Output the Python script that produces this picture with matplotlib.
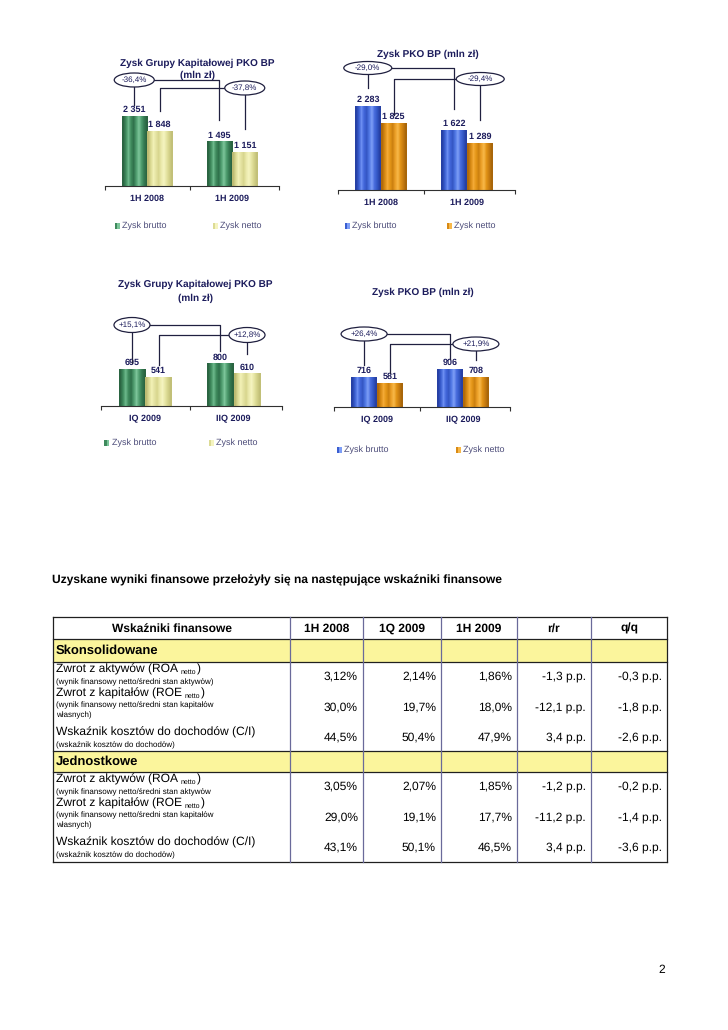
import matplotlib
matplotlib.use('Agg')
import matplotlib.pyplot as plt
from matplotlib.patches import Ellipse, Rectangle
from matplotlib.lines import Line2D
from matplotlib.colors import ListedColormap
import numpy as np

plt.rcParams['font.family'] = ['Liberation Sans', 'DejaVu Sans']
plt.rcParams['text.hinting'] = 'no_hinting'
plt.rcParams['text.hinting_factor'] = 1

W, H = 728, 1030

# ---------------- data ----------------
series_names = ['Zysk brutto', 'Zysk netto']
cats_h = ['1H 2008', '1H 2009']
cats_q = ['IQ 2009', 'IIQ 2009']
title_grp = ['Zysk Grupy Kapitałowej PKO BP', '(mln zł)']
title_bank = ['Zysk PKO BP (mln zł)']

grp_h_brutto = [2351, 1495]
grp_h_netto = [1848, 1151]
grp_h_change = ['-36,4%', '-37,8%']

bank_h_brutto = [2283, 1622]
bank_h_netto = [1825, 1289]
bank_h_change = ['-29,0%', '-29,4%']

grp_q_brutto = [695, 800]
grp_q_netto = [541, 610]
grp_q_change = ['+15,1%', '+12,8%']

bank_q_brutto = [716, 906]
bank_q_netto = [581, 708]
bank_q_change = ['+26,4%', '+21,9%']

heading = 'Uzyskane wyniki finansowe przełożyły się na następujące wskaźniki finansowe'
table_header = ['Wskaźniki finansowe', '1H 2008', '1Q 2009', '1H 2009', 'r/r', 'q/q']
sections = ['Skonsolidowane', 'Jednostkowe']
ind_main = ['Zwrot z aktywów (ROA', 'Zwrot z kapitałów (ROE', 'Wskaźnik kosztów do dochodów (C/I)']
ind_sub_flag = [True, True, False]
ind_notes_kons = [['(wynik finansowy netto/średni stan aktywów)'],
                  ['(wynik finansowy netto/średni stan kapitałów', 'własnych)'],
                  ['(wskaźnik kosztów do dochodów)']]
ind_notes_jedn = [['(wynik finansowy netto/średni stan aktywów'],
                  ['(wynik finansowy netto/średni stan kapitałów', 'własnych)'],
                  ['(wskaźnik kosztów do dochodów)']]
kons_1h2008 = ['3,12%', '30,0%', '44,5%']
kons_1q2009 = ['2,14%', '19,7%', '50,4%']
kons_1h2009 = ['1,86%', '18,0%', '47,9%']
kons_rr = ['-1,3 p.p.', '-12,1 p.p.', '3,4 p.p.']
kons_qq = ['-0,3 p.p.', '-1,8 p.p.', '-2,6 p.p.']
jedn_1h2008 = ['3,05%', '29,0%', '43,1%']
jedn_1q2009 = ['2,07%', '19,1%', '50,1%']
jedn_1h2009 = ['1,85%', '17,7%', '46,5%']
jedn_rr = ['-1,2 p.p.', '-11,2 p.p.', '3,4 p.p.']
jedn_qq = ['-0,2 p.p.', '-1,4 p.p.', '-3,6 p.p.']
page_number = '2'

# ---------------- styles ----------------
NAVY = '#1c1c5c'
LEG = '#4d4d7a'
GREEN = ['#2a6441', '#3f8a5d', '#6cb98b', '#3f8a5d', '#2f714b', '#4f9d6f', '#7cc59a', '#4f9d6f', '#357a52', '#2a6441']
YELLOW = ['#bdbb72', '#dcdb95', '#f2f1b6', '#e4e3a2', '#d8d68e', '#ebeaac', '#f5f4c0', '#e6e5a4', '#d4d28a', '#c2c078']
BLUE = ['#2640a4', '#3a5ed0', '#6c8ef2', '#4266da', '#3456c4', '#5078e4', '#7e9ef6', '#4a6ede', '#3458c6', '#2640a4']
ORANGE = ['#b06a0a', '#d88a14', '#f4aa36', '#e49618', '#cc8010', '#eca028', '#f8b849', '#e29418', '#c87c10', '#a8660a']

fig = plt.figure(figsize=(W / 100, H / 100), dpi=100)
fig.patch.set_facecolor('white')


def F(x, y):
    return x / W, 1 - y / H


def ftext(x, y, s, **kw):
    fx, fy = F(x, y)
    return fig.text(fx, fy, s, **kw)


def fline(xs, ys, **kw):
    fig.add_artist(Line2D([x / W for x in xs], [1 - y / H for y in ys],
                          transform=fig.transFigure, **kw))


def shade(ax, bars, colors):
    cmap = ListedColormap(colors)
    grad = np.arange(len(colors)).reshape(1, -1)
    for b in bars:
        x0, w, h = b.get_x(), b.get_width(), b.get_height()
        im = ax.imshow(grad, extent=[x0, x0 + w, 0, h], aspect='auto', cmap=cmap,
                       interpolation='bilinear', vmin=0, vmax=len(colors) - 1,
                       zorder=b.get_zorder() + 0.1)
        im.set_clip_path(b)


def chart(xl, base, unit, hpx, ymax, cats, brutto, netto, change, cols,
          titles, title_x, title_ys, ell_wh, levels, gaps, leg_y, leg_xs):
    width_u = 2.05
    ax = fig.add_axes([(xl) / W, 1 - base / H, width_u * unit / W, hpx / H])
    ax.set_facecolor('none')
    bw = 0.3
    x = np.arange(len(cats))
    b1 = ax.bar(x - bw / 2, brutto, bw, color=cols[0][4], zorder=2)
    b2 = ax.bar(x + bw / 2, netto, bw, color=cols[1][4], zorder=2)
    shade(ax, b1, cols[0])
    shade(ax, b2, cols[1])
    ax.set_xlim(-0.5, -0.5 + width_u)
    ax.set_ylim(0, ymax)
    for s in ['top', 'right', 'left']:
        ax.spines[s].set_visible(False)
    ax.spines['bottom'].set_color('#303030')
    ax.spines['bottom'].set_linewidth(0.8)
    ax.set_yticks([])
    ax.set_xticks(x)
    ax.set_xticklabels(cats, fontsize=6.6, fontweight='bold', color=NAVY)
    ax.tick_params(axis='x', length=0, pad=6)
    ax.set_xticks([-0.5, 0.5, -0.5 + width_u], minor=True)
    ax.tick_params(axis='x', which='minor', length=3, width=0.8, color='#303030')
    for bars, vals in ((b1, brutto), (b2, netto)):
        for b, v in zip(bars, vals):
            ax.annotate(f'{v:,}'.replace(',', ' '), (b.get_x() + b.get_width() / 2, v),
                        xytext=(0, 4.5), textcoords='offset points', ha='center', va='center',
                        fontsize=6.4, fontweight='bold', color=NAVY, zorder=5)
    for t, ty in zip(titles, title_ys):
        ftext(title_x, ty, t, ha='center', va='center', fontsize=6.9,
              fontweight='bold', color=NAVY)

    def px(xd, yd):
        d = ax.transData.transform((xd, yd))
        return d[0], H - d[1]

    ew, eh = ell_wh
    xb0, _ = px(0 - bw / 2, 0)
    xb1, _ = px(1 - bw / 2, 0)
    xn0, _ = px(0 + bw / 2, 0)
    xn1, _ = px(1 + bw / 2, 0)
    _, tb0 = px(0, brutto[0])
    _, tb1 = px(0, brutto[1])
    _, tn0 = px(0, netto[0])
    _, tn1 = px(0, netto[1])
    yb = base - levels[0]
    yn = base - levels[1]
    lw = 0.9
    lc = '#202040'
    fline([xb0, xb0], [tb0 - gaps[0], yb + eh / 2], color=lc, lw=lw)
    fline([xb0 + ew / 2, xb1, xb1], [yb, yb, tb1 - gaps[1]], color=lc, lw=lw)
    fline([xn1 - ew / 2, xn0, xn0], [yn, yn, tn0 - gaps[2]], color=lc, lw=lw)
    fline([xn1, xn1], [yn + eh / 2, tn1 - gaps[3]], color=lc, lw=lw)
    for (cx, cy), txt in (((xb0, yb), change[0]), ((xn1, yn), change[1])):
        fx, fy = F(cx, cy)
        fig.add_artist(Ellipse((fx, fy), ew / W, eh / H, transform=fig.transFigure,
                               facecolor='white', edgecolor=lc, lw=lw, zorder=6))
        ftext(cx, cy, txt, ha='center', va='center', fontsize=6.0, color=NAVY, zorder=7)

    for i, (lx, name) in enumerate(zip(leg_xs, series_names)):
        c = cols[i]
        fig.add_artist(Rectangle(F(lx - 2.5, leg_y + 3), 2.5 / W, 6 / H,
                                 transform=fig.transFigure, facecolor=c[1], edgecolor='none'))
        fig.add_artist(Rectangle(F(lx, leg_y + 3), 2.5 / W, 6 / H,
                                 transform=fig.transFigure, facecolor=c[6], edgecolor='none'))
        ftext(lx + 5, leg_y, name, ha='left', va='center', fontsize=6.5, color=LEG)
    return ax


chart(104.5, 186, 85, 89.4, 3000, cats_h, grp_h_brutto, grp_h_netto, grp_h_change,
      (GREEN, YELLOW), title_grp, 197, (63, 75), (40, 14), (106, 98), (11, 21, 20, 23),
      226, (117, 215))
chart(337.5, 190, 86.5, 92, 2500, cats_h, bank_h_brutto, bank_h_netto, bank_h_change,
      (BLUE, ORANGE), title_bank, 428, (54,), (48, 13), (122, 111), (18, 21, 8, 23),
      226, (347, 449))
chart(101, 406, 88.5, 53.3, 1000, cats_q, grp_q_brutto, grp_q_netto, grp_q_change,
      (GREEN, YELLOW), title_grp, 195, (284, 298), (36, 15), (81, 71), (6, 12, 12, 19),
      443, (107, 211))
chart(334, 407, 86, 50.3, 1200, cats_q, bank_q_brutto, bank_q_netto, bank_q_change,
      (BLUE, ORANGE), title_bank, 423, (292,), (46, 14), (73, 63), (12, 10, 10, 17),
      450, (339, 458))

# ---------------- heading ----------------
ftext(52, 580, heading, ha='left', va='center', fontsize=8.85, fontweight='bold', color='black')

# ---------------- table ----------------
col_x = [53, 290, 363, 441, 517, 591, 667]
t_top, h_bot = 617, 639
sec1_top, sec1_bot = 639, 662
sec2_top, sec2_bot = 751, 772
t_bot = 862

for (y0, y1) in ((sec1_top, sec1_bot), (sec2_top, sec2_bot)):
    fig.add_artist(Rectangle(F(col_x[0], y1), (col_x[-1] - col_x[0]) / W, (y1 - y0) / H,
                             transform=fig.transFigure, facecolor='#fbf59c', edgecolor='none'))
for y in (t_top, h_bot, sec1_bot, sec2_top, sec2_bot, t_bot):
    fline([col_x[0], col_x[-1]], [y, y], color='#202020', lw=0.9)
for i, xc in enumerate(col_x):
    edge = i in (0, len(col_x) - 1)
    fline([xc, xc], [t_top, t_bot], color='#202020' if edge else '#6a6a9a', lw=0.9)

for i, h in enumerate(table_header):
    cx = (col_x[i] + col_x[i + 1]) / 2
    ftext(cx, 628.5, h, ha='center', va='center', fontsize=8.8, fontweight='bold', color='black')

renderer = fig.canvas.get_renderer()


def indicator(y_main, main, has_sub, notes, note_ys):
    t = ftext(56, y_main, main, ha='left', va='center', fontsize=8.6, color='black')
    if has_sub:
        bb = t.get_window_extent(renderer)
        xe = bb.x1 + 2.5
        t2 = ftext(xe, y_main + 3, 'netto', ha='left', va='center', fontsize=4.8, color='black')
        bb2 = t2.get_window_extent(renderer)
        ftext(bb2.x1 + 0.5, y_main, ')', ha='left', va='center', fontsize=8.6, color='black')
    for n, ny in zip(notes, note_ys):
        ftext(56, ny, n, ha='left', va='center', fontsize=5.9, color='black')


def section(top, bot, name, notes, cols_vals):
    ftext(56, (top + bot) / 2, name, ha='left', va='center', fontsize=9,
          fontweight='bold', color='black')
    b = bot
    main_ys = [b + 7, b + 31, b + 70]
    note_ys = [[b + 20], [b + 43, b + 53], [b + 83]]
    val_ys = [b + 14, b + 45, b + 75]
    for k in range(3):
        indicator(main_ys[k], ind_main[k], ind_sub_flag[k], notes[k], note_ys[k])
        for j, vals in enumerate(cols_vals):
            ftext(col_x[j + 2] - 5, val_ys[k], vals[k], ha='right', va='center',
                  fontsize=8.6, color='black')


section(sec1_top, sec1_bot, sections[0], ind_notes_kons,
        [kons_1h2008, kons_1q2009, kons_1h2009, kons_rr, kons_qq])
section(sec2_top, sec2_bot, sections[1], ind_notes_jedn,
        [jedn_1h2008, jedn_1q2009, jedn_1h2009, jedn_rr, jedn_qq])

ftext(662, 970, page_number, ha='center', va='center', fontsize=8.3, color='black')

fig.savefig('out.png', dpi=100)
